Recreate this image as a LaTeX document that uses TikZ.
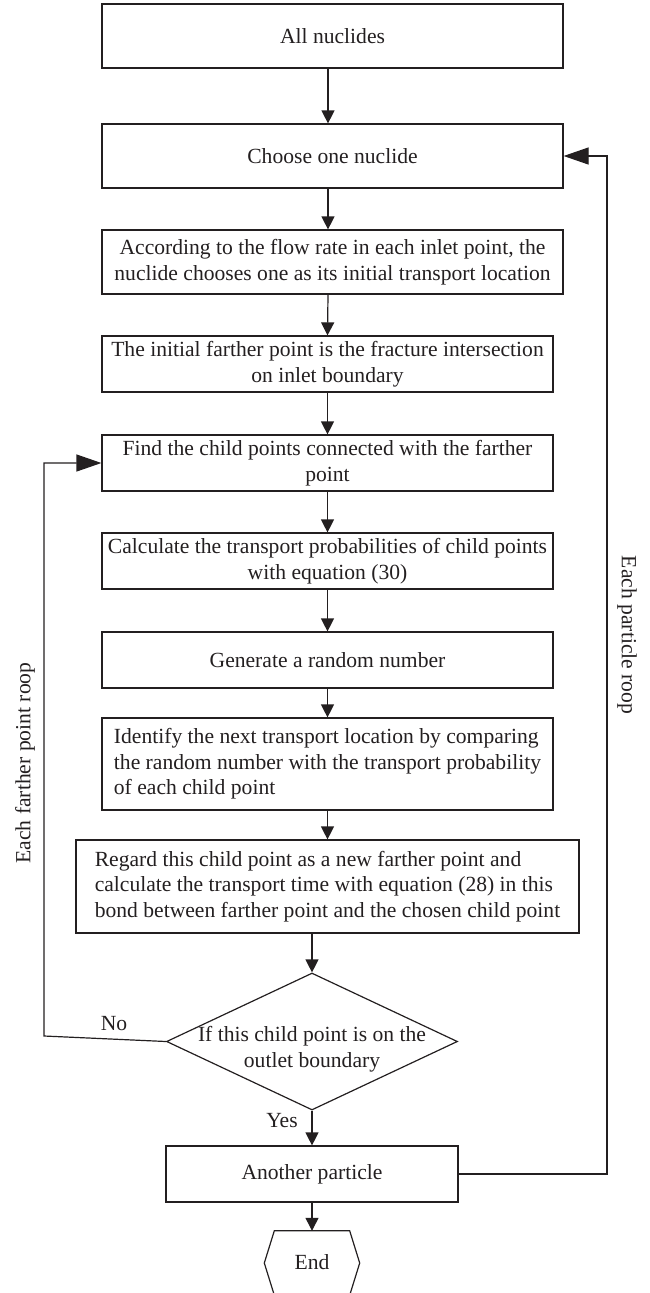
\documentclass[tikz,border=0pt]{standalone}
\usepackage{fontspec}
\setmainfont{Liberation Serif}
\usetikzlibrary{arrows.meta,shapes.geometric}
\definecolor{ink}{HTML}{231F20}
\begin{document}
\begin{tikzpicture}[x=1pt,y=-1pt,
  every node/.style={font=\fontsize{21.6}{25.5}\selectfont, text=ink},
  box/.style={draw=ink, line width=1.2pt, rectangle, inner sep=0pt, align=center},
  wbox/.style={box, minimum width=461pt, minimum height=64pt},
  nbox/.style={box, minimum width=451pt, minimum height=56pt},
  vflow/.style={draw=ink, line width=1.2pt, -{Triangle[length=13pt,width=13pt]}},
  hflow/.style={draw=ink, line width=1.2pt, -{Triangle[length=25pt,width=17pt]}},
  plainline/.style={draw=ink, line width=1.2pt},
]
\useasboundingbox (0,0) rectangle (649,1293);

\node[wbox] (b1) at (332.5,36) {All nuclides};
\node[wbox] (b2) at (332.5,156) {Choose one nuclide};
\node[wbox] (b3) at (332.5,262) {According to the flow rate in each inlet point, the\\nuclide chooses one as its initial transport location};
\node[nbox] (b4) at (327.5,364) {The initial farther point is the fracture intersection\\on inlet boundary};
\node[nbox] (b5) at (327.5,463) {Find the child points connected with the farther\\point};
\node[nbox] (b6) at (327.5,561) {Calculate the transport probabilities of child points\\with equation (30)};
\node[nbox] (b7) at (327.5,660) {Generate a random number};
\node[box, align=left, minimum width=451pt, minimum height=92pt] (b8) at (327.5,764) {Identify the next transport location by comparing\\the random number with the transport probability\\of each child point};
\node[box, align=left, minimum width=503pt, minimum height=93pt] (b9) at (327.5,886.5) {Regard this child point as a new farther point and\\calculate the transport time with equation (28) in this\\bond between farther point and the chosen child point};
\node[draw=ink, line width=1.2pt, diamond, minimum width=291pt, minimum height=137pt, inner sep=0pt] (dia) at (312,1041.5) {};
\node[align=center] (diatext) at (312,1049) {If this child point is on the\\outlet boundary};
\node[box, minimum width=292pt, minimum height=56pt] (b10) at (312,1174) {Another particle};
\node[minimum width=75pt, minimum height=64pt, inner sep=0pt] (endn) at (312,1263) {};
\node (endtext) at (312,1262) {End};
\draw[plainline] (endn.north west) -- (endn.north east) -- ([xshift=10pt]endn.east) -- (endn.south east) -- (endn.south west) -- ([xshift=-10pt]endn.west) -- cycle;

\draw[vflow] ([xshift=-4.5pt]b1.south) -- ([xshift=-4.5pt]b2.north);
\draw[vflow] ([xshift=-4.5pt]b2.south) -- ([xshift=-4.5pt]b3.north);
\draw[vflow] ([xshift=-4.5pt]b3.south) -- (b4.north);
\draw[vflow] (b4.south) -- (b5.north);
\draw[vflow] (b5.south) -- (b6.north);
\draw[vflow] (b6.south) -- (b7.north);
\draw[vflow] (b7.south) -- (b8.north);
\draw[vflow] (b8.south) -- (b9.north);
\draw[vflow] (b9.south -| dia.north) -- (dia.north);
\draw[vflow] (dia.south) -- (b10.north);
\draw[vflow] (b10.south) -- (endn.north);

\coordinate (lc) at (44,1036);
\draw[hflow] (dia.west) -- (lc) -- (lc |- b5.west) -- (b5.west);
\coordinate (rc) at (607,1174);
\draw[hflow] (b10.east) -- (rc) -- (rc |- b2.east) -- (b2.east);

\node (no) at (114,1024) {No};
\node (yes) at (282,1121) {Yes};
\node[rotate=90] (lfl) at (25,763) {Each farther point roop};
\node[rotate=-90] (rpl) at (627,635) {Each particle roop};
\end{tikzpicture}
\end{document}
